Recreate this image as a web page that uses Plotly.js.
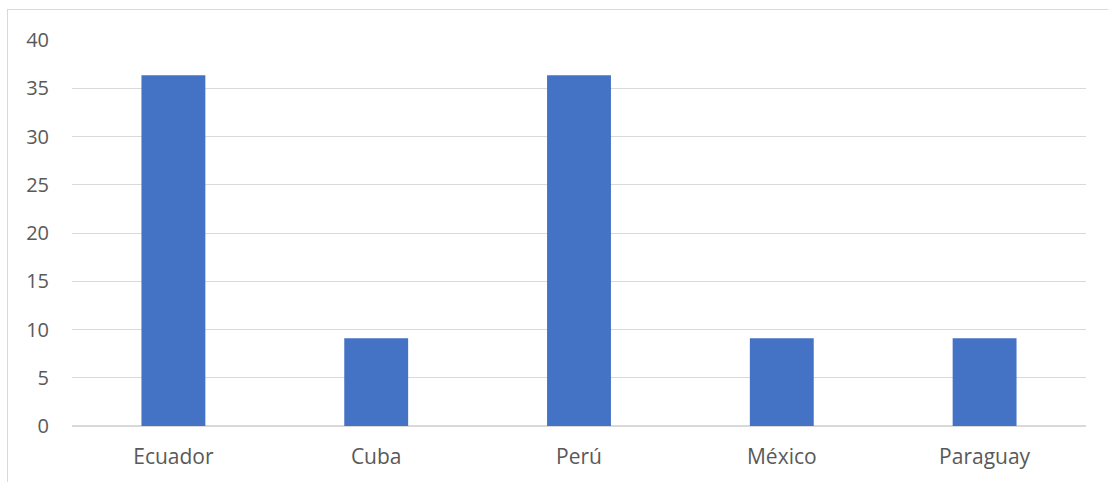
<!DOCTYPE html>
<html><head><meta charset="utf-8">
<script src="https://cdn.plot.ly/plotly-3.0.1.min.js"></script>
<style>
html,body{margin:0;padding:0;background:#fff;overflow:hidden}
#frame{position:absolute;left:7px;top:9px;width:1300px;height:700px;border:1px solid #d9d9d9;box-sizing:border-box;pointer-events:none;z-index:5}
#chart{position:absolute;left:0;top:0;width:1108px;height:482px}
</style></head>
<body>
<div id="chart"></div>
<div id="frame"></div>
<script>
const categories = ["Ecuador", "Cuba", "Perú", "México", "Paraguay"];
const values = [36.36, 9.09, 36.36, 9.09, 9.09];
const yTicks = [0, 5, 10, 15, 20, 25, 30, 35, 40];

Plotly.newPlot('chart', [{
  type: 'bar', x: categories, y: values,
  marker: {color: '#4472c4'}, width: 0.315, hoverinfo: 'x+y'
}], {
  width: 1108, height: 482,
  margin: {l: 72, r: 22, t: 40, b: 56},
  paper_bgcolor: 'rgba(0,0,0,0)', plot_bgcolor: '#fff',
  font: {family: '"Open Sans", sans-serif', size: 21, color: '#595959'},
  showlegend: false,
  xaxis: {showgrid: false, showline: false, ticks: '', ticklabelstandoff: 16, tickfont: {size: 21}},
  yaxis: {range: [0, 40], tickvals: yTicks, showgrid: true, gridcolor: '#d9d9d9', gridwidth: 1,
          zeroline: true, zerolinecolor: '#d9d9d9', zerolinewidth: 1.5, showline: false, ticks: '',
          ticklabelstandoff: 22, tickfont: {size: 20}}
}, {displayModeBar: false, staticPlot: true});
</script>
</body></html>
